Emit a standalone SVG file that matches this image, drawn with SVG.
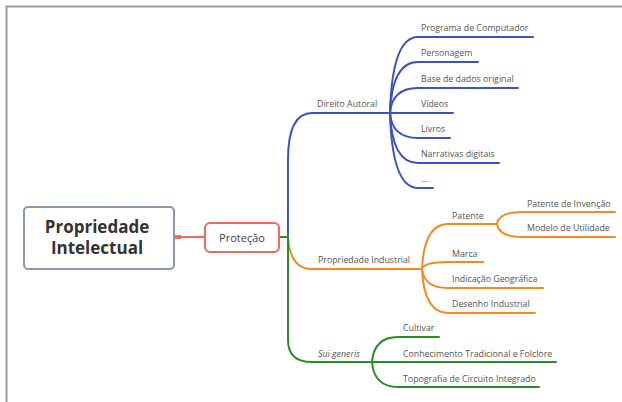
<svg xmlns="http://www.w3.org/2000/svg" width="622" height="402" viewBox="0 0 622 402">
<style>
text{font-family:"Open Sans","Noto Sans","Liberation Sans",sans-serif;fill:#555}
.t{font-size:8.8px}
.c{fill:none;stroke-width:2;stroke-linecap:round}
.b{stroke:#3f51c0}
.o{stroke:#f58a1f}
.g{stroke:#2a8c2a}
</style>
<rect width="622" height="402" fill="#fff"/>
<path d="M6.5,402 V6.5 H622" fill="none" stroke="#9a9a9a" stroke-width="2"/>
<g id="connectors">
<line x1="174" y1="237" x2="205" y2="237" stroke="#f06a5a" stroke-width="2"/>
<rect x="174" y="235" width="7" height="4" fill="#f06a5a"/>
<line x1="279" y1="237" x2="288" y2="237" class="c g"/>
<path class="c b" d="M288,237 V160 Q288,113 312,113 H390"/>
<path class="c o" d="M288,237 Q290,269 312,269 H422"/>
<path class="c g" d="M288,237 V340 Q288,362 312,362 H372"/>
<path class="c b" d="M390,113 Q392,37 418,37 H533"/>
<path class="c b" d="M390,113 Q392,62 418,62 H478"/>
<path class="c b" d="M390,113 Q392,88 418,88 H518"/>
<path class="c b" d="M390,113 H453"/>
<path class="c b" d="M390,113 Q392,138 418,138 H450"/>
<path class="c b" d="M390,113 Q392,163 418,163 H499"/>
<path class="c b" d="M390,113 Q392,188 418,188 H433"/>
<path class="c o" d="M422,269 Q424,224 448,224 H497"/>
<path class="c o" d="M422,269 Q424,262 448,262 H483"/>
<path class="c o" d="M422,269 Q424,288 448,288 H543"/>
<path class="c o" d="M422,269 Q424,313 448,313 H535"/>
<path class="c o" d="M497,224 Q499,212 522,212 H615"/>
<path class="c o" d="M497,224 Q499,237 522,237 H615"/>
<path class="c g" d="M372,362 Q374,337 398,337 H439"/>
<path class="c g" d="M372,362 H556"/>
<path class="c g" d="M372,362 Q374,387 398,387 H539"/>
</g>
<g id="root">
<rect x="24" y="207" width="150" height="62" rx="4" fill="#fff" stroke="#8996ab" stroke-width="2"/>
<text x="97" y="232.5" text-anchor="middle" font-size="17" font-weight="bold" style="fill:#333">Propriedade</text>
<text x="97" y="253.5" text-anchor="middle" font-size="17" font-weight="bold" style="fill:#333">Intelectual</text>
</g>
<g id="protecao">
<rect x="205" y="223" width="74" height="29" rx="5" fill="#fff" stroke="#f06a5a" stroke-width="2"/>
<text x="242" y="241.5" text-anchor="middle" font-size="11" style="fill:#444">Proteção</text>
</g>
<g id="direito-autoral"><text class="t" x="317" y="106.5">Direito Autoral</text></g>
<g id="programa"><text class="t" x="421" y="31">Programa de Computador</text></g>
<g id="personagem"><text class="t" x="421" y="56">Personagem</text></g>
<g id="base"><text class="t" x="421" y="81.5">Base de dados original</text></g>
<g id="videos"><text class="t" x="421" y="106.5">Vídeos</text></g>
<g id="livros"><text class="t" x="421" y="131.5">Livros</text></g>
<g id="narrativas"><text class="t" x="421" y="156.5">Narrativas digitais</text></g>
<g id="etc"><text class="t" x="421" y="181.5">...</text></g>
<g id="propriedade-industrial"><text class="t" x="318" y="262.5">Propriedade Industrial</text></g>
<g id="patente"><text class="t" x="452" y="218.5">Patente</text></g>
<g id="patente-invencao"><text class="t" x="527" y="206.5">Patente de Invenção</text></g>
<g id="modelo-utilidade"><text class="t" x="527" y="230.5">Modelo de Utilidade</text></g>
<g id="marca"><text class="t" x="452" y="256.5">Marca</text></g>
<g id="indicacao"><text class="t" x="452" y="281.5">Indicação Geográfica</text></g>
<g id="desenho"><text class="t" x="452" y="306.5">Desenho Industrial</text></g>
<g id="sui-generis"><text class="t" x="318" y="356.5" font-style="italic">Sui generis</text></g>
<g id="cultivar"><text class="t" x="403" y="330.5">Cultivar</text></g>
<g id="conhecimento"><text class="t" x="403" y="356.5">Conhecimento Tradicional e Folclore</text></g>
<g id="topografia"><text class="t" x="403" y="381.5">Topografia de Circuito Integrado</text></g>
</svg>
